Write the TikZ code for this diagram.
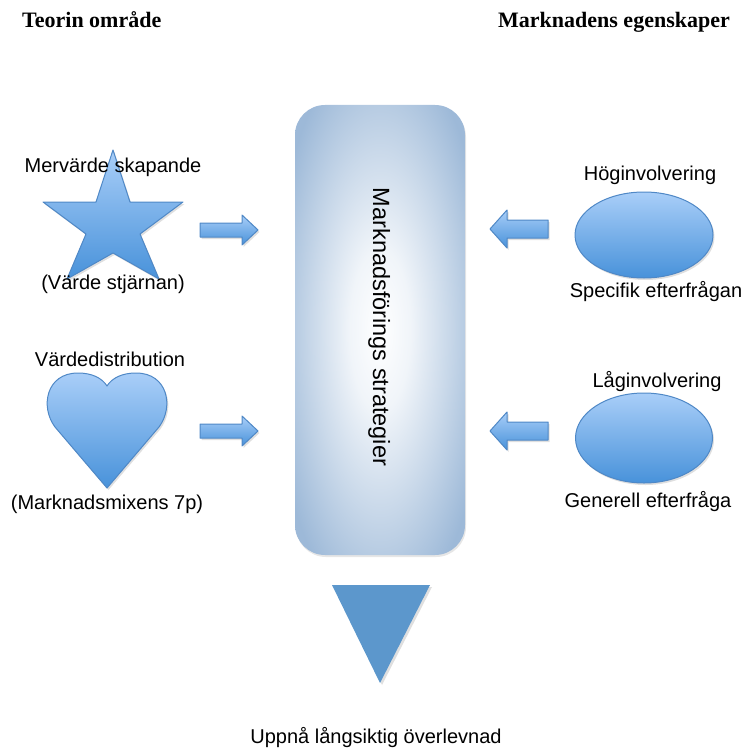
\documentclass[tikz,border=0pt]{standalone}
\usepackage{fontspec}
\setmainfont{Liberation Sans}
\newfontfamily\headfont{Liberation Serif}
\usetikzlibrary{shadows,shapes.geometric}

\definecolor{shapetop}{HTML}{A9CEF8}
\definecolor{shapebot}{HTML}{4892DA}
\definecolor{shapeedge}{HTML}{4F88C6}
\definecolor{boxblue}{HTML}{9DB9D8}
\definecolor{triblue}{HTML}{5C97CC}

% soft "pillow" fill of the central strategy box
\pgfdeclareradialshading{pillow}{\pgfpoint{0bp}{0bp}}{%
  color(0bp)=(white);
  color(9bp)=(white!85!boxblue);
  color(20bp)=(white!45!boxblue);
  color(32bp)=(boxblue);
  color(50bp)=(boxblue)}

\tikzset{
  bluefill/.style={top color=shapetop, bottom color=shapebot, draw=shapeedge,
    line width=1pt, line join=round,
    drop shadow={shadow xshift=1.5pt, shadow yshift=-2pt, opacity=0.25}},
  lbl/.style={font=\fontsize{20}{24}\selectfont, inner sep=0pt, anchor=base},
  headtxt/.style={font=\headfont\bfseries\fontsize{22}{26}\selectfont,
    inner sep=0pt, anchor=base west},
}

\begin{document}
\begin{tikzpicture}[x=1pt, y=1pt]
\useasboundingbox (0,0) rectangle (747,-749);

% column headings
\node[headtxt] (teori) at (22,-28) {Teorin område};
\node[headtxt] (marknad) at (498,-28) {Marknadens egenskaper};

% central box
\node[shading=pillow, rounded corners=30pt, minimum width=170pt,
      minimum height=450pt, inner sep=0pt,
      drop shadow={shadow xshift=1pt, shadow yshift=-2pt, opacity=0.2}]
      (box) at (380,-330) {};
\node[font=\fontsize{23.5}{28}\selectfont, rotate=-90, anchor=base,
      inner sep=0pt] (strat) at (373,-327) {Marknadsförings strategier};

% star
\path[bluefill] (113,-150) -- (130,-202) -- (183,-202) -- (140,-234)
  -- (159,-279) -- (113,-253) -- (67,-279) -- (86,-234) -- (43,-202)
  -- (96,-202) -- cycle;
\node[lbl] (mervarde) at (113,-172) {Mervärde skapande};
\node[lbl] (stjarna) at (113,-289) {(Värde stjärnan)};

% heart
\path[bluefill] (107,-488) -- (55,-427)
  .. controls (40,-407) and (46,-373) .. (78,-373)
  .. controls (92,-373) and (102,-378) .. (107,-386)
  .. controls (112,-378) and (122,-373) .. (136,-373)
  .. controls (168,-373) and (174,-407) .. (159,-427) -- cycle;
\node[lbl] (vardedist) at (110,-366) {Värdedistribution};
\node[lbl] (mixen) at (107,-509) {(Marknadsmixens 7p)};

% ellipses
\node[ellipse, bluefill, minimum width=138pt, minimum height=86pt,
      inner sep=0pt] (hog) at (644,-235) {};
\node[ellipse, bluefill, minimum width=137pt, minimum height=90pt,
      inner sep=0pt] (lag) at (644,-438) {};
\node[lbl] (hogtxt) at (650,-180) {Höginvolvering};
\node[lbl] (spec) at (656,-297) {Specifik efterfrågan};
\node[lbl] (lagtxt) at (657,-387) {Låginvolvering};
\node[lbl] (gen) at (648,-507) {Generell efterfråga};

% block arrows into the box from the left
\foreach \c in {230,431}{
  \path[bluefill] (200,-\c+7) -- (242,-\c+7) -- (242,-\c+15) -- (258,-\c)
    -- (242,-\c-15) -- (242,-\c-7) -- (200,-\c-7) -- cycle;
}
% block arrows into the box from the right
\foreach \c in {229,431}{
  \path[bluefill] (548,-\c+9) -- (507,-\c+9) -- (507,-\c+19) -- (490,-\c)
    -- (507,-\c-19) -- (507,-\c-9) -- (548,-\c-9) -- cycle;
}

% outcome
\path[fill=triblue, drop shadow={shadow xshift=2pt, shadow yshift=-2pt, opacity=0.25}]
  (332,-585) -- (430,-585) -- (380,-683) -- cycle;
\node[lbl] (utfall) at (376,-743) {Uppnå långsiktig överlevnad};
\end{tikzpicture}
\end{document}
